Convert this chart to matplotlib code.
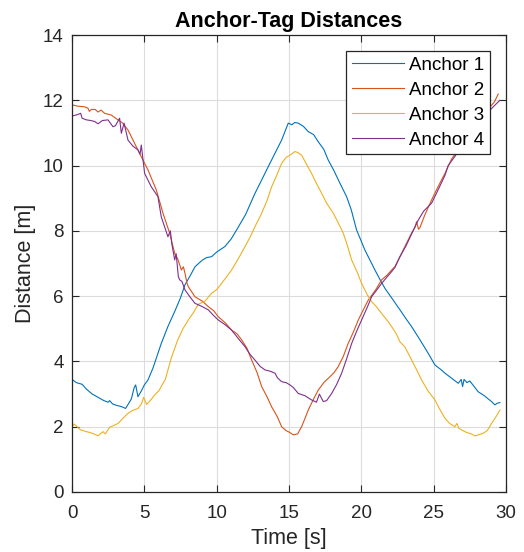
#!/usr/bin/env python

import matplotlib
matplotlib.use("Agg")
import matplotlib.pyplot as plt

plt.rcParams['font.family'] = ['Liberation Sans', 'DejaVu Sans']

# Anchor 1
t1 = [0, 0.3, 0.7, 1.0, 1.4, 1.8, 2.2, 2.5, 2.6, 2.8, 3.1, 3.4, 3.7, 3.9, 4.1, 4.3, 4.4, 4.56, 4.8, 5.0,
      5.25, 5.6, 6.17, 6.63, 7.12, 7.5, 7.81, 8.2, 8.5, 9.0, 9.3, 9.65, 10.0, 10.57, 11.0, 11.38, 12.0,
      12.65, 13.1, 13.57, 14.0, 14.49, 14.95, 15.2, 15.4, 15.64, 16.0, 16.33, 16.7, 17.02, 17.4, 17.71,
      18.1, 18.52, 18.98, 19.3, 19.67, 20.25, 20.6, 20.94, 21.3, 21.63, 22.2, 22.67, 23.1, 23.47, 24.0,
      24.62, 25.09, 25.5, 25.78, 26.2, 26.7, 26.9, 27.0, 27.1, 27.3, 27.5, 28.08, 28.5, 29.0, 29.23,
      29.4, 29.58]
d1 = [3.45, 3.35, 3.3, 3.15, 3.0, 2.9, 2.8, 2.75, 2.8, 2.7, 2.65, 2.62, 2.56, 2.7, 2.85, 3.2, 3.28, 2.92,
      3.1, 3.28, 3.43, 3.8, 4.55, 5.07, 5.55, 5.95, 6.35, 6.65, 6.9, 7.1, 7.18, 7.21, 7.35, 7.52, 7.75,
      8.03, 8.5, 9.15, 9.55, 9.97, 10.35, 10.78, 11.3, 11.25, 11.32, 11.3, 11.2, 11.04, 10.95, 10.73,
      10.5, 10.17, 9.85, 9.46, 9.05, 8.65, 8.03, 7.41, 7.1, 6.8, 6.5, 6.24, 5.88, 5.58, 5.3, 5.07, 4.7,
      4.25, 3.89, 3.75, 3.64, 3.5, 3.33, 3.45, 3.23, 3.45, 3.35, 3.4, 3.07, 2.95, 2.77, 2.67, 2.72, 2.74]

# Anchor 2
t2 = [0, 0.4, 0.87, 1.1, 1.2, 1.34, 1.6, 1.8, 2.0, 2.26, 2.7, 3.18, 3.5, 3.87, 4.33, 4.79, 5.25, 5.83,
      6.29, 6.75, 7.1, 7.3, 7.45, 7.56, 7.7, 7.81, 7.95, 8.04, 8.5, 9.0, 9.42, 9.8, 10.11, 10.6, 11.03,
      11.4, 11.73, 12.1, 12.42, 12.8, 13.11, 13.5, 13.8, 14.2, 14.49, 14.8, 15.07, 15.3, 15.6, 15.87,
      16.1, 16.33, 16.7, 17.02, 17.4, 17.71, 18.1, 18.4, 18.75, 19.09, 19.45, 19.79, 20.1, 20.48, 21.0,
      21.4, 21.8, 22.09, 22.32, 22.67, 23.1, 23.47, 23.7, 23.82, 23.95, 24.05, 24.4, 24.86, 25.3, 25.78,
      26.24, 26.7, 27.5, 28.3, 29.0, 29.2, 29.46]
d2 = [11.86, 11.82, 11.8, 11.76, 11.66, 11.72, 11.72, 11.64, 11.7, 11.6, 11.55, 11.4, 11.3, 11.09, 10.68,
      10.27, 9.87, 9.25, 8.54, 7.93, 7.31, 7.15, 6.95, 6.8, 6.9, 6.7, 6.4, 6.29, 5.98, 5.85, 5.68, 5.55,
      5.37, 5.18, 4.96, 4.85, 4.66, 4.4, 4.04, 3.65, 3.23, 2.9, 2.61, 2.3, 2.0, 1.88, 1.82, 1.75, 1.78,
      2.0, 2.25, 2.51, 2.85, 3.12, 3.35, 3.48, 3.65, 3.84, 4.15, 4.55, 4.9, 5.27, 5.55, 5.88, 6.2, 6.5,
      6.65, 6.8, 6.9, 7.21, 7.6, 7.93, 8.1, 8.28, 8.05, 8.1, 8.5, 8.95, 9.35, 9.76, 10.2, 10.5, 10.95,
      11.45, 11.85, 11.95, 12.19]

# Anchor 3
t3 = [0, 0.15, 0.3, 0.6, 1.0, 1.4, 1.8, 2.0, 2.14, 2.3, 2.6, 2.8, 3.18, 3.5, 3.87, 4.2, 4.56, 4.8, 4.95,
      5.16, 5.5, 5.71, 6.0, 6.45, 6.86, 7.3, 7.67, 8.04, 8.4, 8.73, 9.2, 9.65, 10.0, 10.34, 10.7, 11.03,
      11.5, 11.96, 12.3, 12.65, 13.11, 13.5, 13.8, 14.2, 14.49, 14.8, 15.07, 15.41, 15.6, 15.87, 16.2,
      16.56, 16.9, 17.26, 17.6, 18.06, 18.4, 18.75, 19.0, 19.33, 19.7, 20.02, 20.4, 20.71, 21.0, 21.4,
      21.8, 22.09, 22.4, 22.67, 23.0, 23.24, 23.7, 24.17, 24.6, 25.09, 25.4, 25.78, 26.1, 26.47, 26.6,
      26.75, 26.93, 27.3, 27.6, 27.85, 28.1, 28.43, 28.7, 29.0, 29.3, 29.58]
d3 = [2.0, 2.08, 2.02, 1.9, 1.85, 1.8, 1.72, 1.8, 1.85, 1.78, 1.98, 2.02, 2.1, 2.25, 2.41, 2.5, 2.56, 2.7,
      2.9, 2.68, 2.85, 2.97, 3.1, 3.45, 4.1, 4.65, 5.0, 5.27, 5.5, 5.75, 5.85, 6.09, 6.2, 6.39, 6.6, 6.8,
      7.15, 7.52, 7.8, 8.13, 8.54, 8.95, 9.35, 9.75, 10.07, 10.25, 10.32, 10.43, 10.4, 10.32, 10.05, 9.76,
      9.45, 9.15, 8.85, 8.54, 8.25, 7.93, 7.6, 7.11, 6.75, 6.39, 6.05, 5.83, 5.7, 5.47, 5.25, 5.07, 4.86,
      4.6, 4.45, 4.25, 3.85, 3.43, 3.1, 2.82, 2.55, 2.26, 2.1, 2.0, 2.1, 1.95, 1.9, 1.82, 1.78, 1.72,
      1.75, 1.8, 1.88, 2.1, 2.3, 2.51]

# Anchor 4
t4 = [0, 0.3, 0.6, 0.7, 1.0, 1.3, 1.57, 1.8, 2.1, 2.49, 2.83, 3.0, 3.29, 3.41, 3.6, 3.87, 4.2, 4.56, 4.7,
      4.79, 5.02, 5.48, 5.94, 6.17, 6.63, 6.8, 6.9, 7.1, 7.2, 7.35, 7.44, 7.6, 7.81, 8.2, 8.5, 9.0, 9.42,
      9.8, 10.11, 10.6, 11.03, 11.5, 11.96, 12.3, 12.65, 13.0, 13.34, 13.7, 14.03, 14.2, 14.49, 14.8,
      15.07, 15.3, 15.64, 16.1, 16.56, 16.9, 17.1, 17.37, 17.6, 17.95, 18.3, 18.64, 19.0, 19.33, 19.7,
      20.02, 20.4, 20.71, 21.0, 21.4, 21.8, 22.09, 22.32, 22.67, 23.1, 23.47, 23.9, 24.3, 24.86, 25.3,
      25.78, 26.0, 26.5, 27.2, 28.08, 28.9, 29.23, 29.58]
d4 = [11.52, 11.55, 11.6, 11.45, 11.4, 11.38, 11.35, 11.28, 11.38, 11.4, 11.19, 11.22, 11.45, 10.99, 11.3,
      10.78, 10.6, 10.48, 10.35, 10.63, 9.76, 9.35, 9.05, 8.43, 7.82, 8.0, 7.6, 7.11, 7.3, 6.6, 6.5,
      6.45, 6.19, 5.95, 5.78, 5.68, 5.58, 5.4, 5.27, 5.12, 4.96, 4.7, 4.45, 4.22, 4.04, 3.85, 3.74, 3.7,
      3.64, 3.5, 3.38, 3.35, 3.28, 3.2, 3.02, 2.95, 2.82, 2.75, 3.0, 2.77, 2.8, 3.02, 3.3, 3.64, 4.1,
      4.55, 4.95, 5.27, 5.65, 5.98, 6.15, 6.39, 6.6, 6.75, 6.88, 7.21, 7.55, 7.9, 8.3, 8.6, 8.85, 9.25,
      9.7, 10.0, 10.3, 10.8, 11.3, 11.7, 11.85, 12.0]

labels = ["Anchor 1", "Anchor 2", "Anchor 3", "Anchor 4"]
colors = ["#0072BD", "#D95319", "#EDB120", "#7E2F8E"]

fig = plt.figure(figsize=(5.24, 5.52), dpi=100)
ax = fig.add_axes([72/524, 1 - 492/552, 434/524, 457/552])

for t, d, lab, c in zip([t1, t2, t3, t4], [d1, d2, d3, d4], labels, colors):
    ax.plot(t, d, color=c, lw=0.8, label=lab)

ax.set_xlim(0, 30)
ax.set_ylim(0, 14)
ax.set_xticks(range(0, 31, 5))
ax.set_yticks(range(0, 15, 2))
ax.grid(True, color="#dcdcdc", lw=0.8)
ax.set_axisbelow(True)
ax.tick_params(direction="in", length=5, width=0.8, top=True, right=True,
               labelsize=13.5, colors="#262626")
ax.tick_params(axis="x", pad=9)
ax.tick_params(axis="y", pad=6)
for s in ax.spines.values():
    s.set_color("#262626")
    s.set_linewidth(0.9)

ax.set_title("Anchor-Tag Distances", fontsize=15.5, fontweight="bold", pad=6)
ax.set_xlabel("Time [s]", fontsize=15.5, color="#262626", labelpad=5)
ax.set_ylabel("Distance [m]", fontsize=15.5, color="#262626", labelpad=5)

leg = ax.legend(loc="upper right", fontsize=13.5, fancybox=False, framealpha=1,
                edgecolor="#262626", handlelength=2.75, handletextpad=0.3,
                borderpad=0.3, labelspacing=0.42, borderaxespad=0.85)
leg.get_frame().set_linewidth(0.9)

plt.savefig("out.png", dpi=100)
